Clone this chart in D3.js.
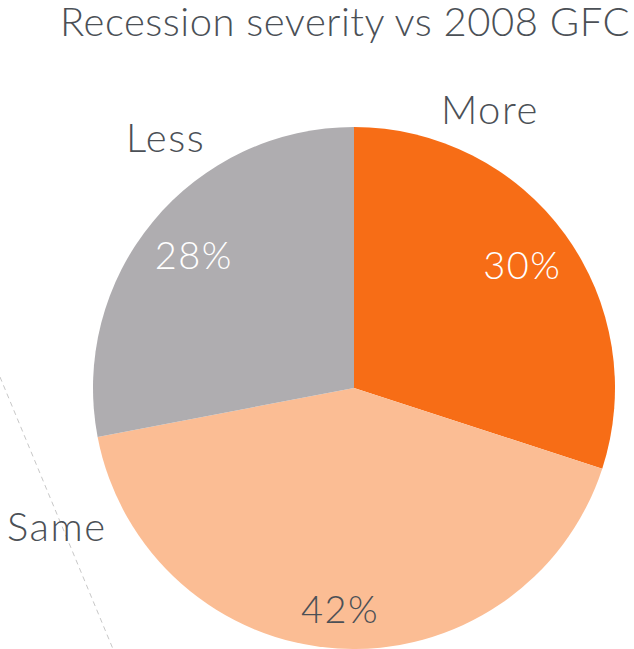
<!DOCTYPE html>
<html>
<head>
<meta charset="utf-8">
<script src="https://cdn.jsdelivr.net/npm/d3@7"></script>
<style>
  body { margin: 0; background: #fff; }
  text { font-family: Lato, "Open Sans", sans-serif; font-weight: 300; }
</style>
</head>
<body>
<script>
const categories = ["More", "Same", "Less"];
const shares = [30, 42, 28];
const colors = ["#F76D16", "#FBBD94", "#AFADB0"];
const pctColors = ["#ffffff", "#4b5056", "#ffffff"];

const width = 634;
const height = 649;
const cx = 354, cy = 388, radius = 261;

// where the category names sit (angle in degrees from top, distance from centre)
const namePlace = [[26, 310], [245, 328], [323, 313]];

const svg = d3.select("body").append("svg")
    .attr("width", width)
    .attr("height", height);

svg.append("text")
    .attr("x", 630)
    .attr("y", 36)
    .attr("text-anchor", "end")
    .attr("font-size", 40)
    .attr("letter-spacing", 0.5)
    .attr("fill", "#4b5056")
    .text("Recession severity vs 2008 GFC");

// faint dashed guide on the left
svg.append("line")
    .attr("x1", 0).attr("y1", 377)
    .attr("x2", 113).attr("y2", 649)
    .attr("stroke", "#c8c8c8")
    .attr("stroke-width", 1)
    .attr("stroke-dasharray", "5,4");

const pie = d3.pie().sort(null).value(d => d)(shares);
const arc = d3.arc().innerRadius(0).outerRadius(radius);

const g = svg.append("g").attr("transform", `translate(${cx},${cy})`);

g.selectAll("path")
    .data(pie)
    .join("path")
    .attr("d", arc)
    .attr("fill", (d, i) => colors[i]);

g.selectAll("text.pct")
    .data(pie)
    .join("text")
    .attr("class", "pct")
    .attr("transform", (d, i) => {
        const c = d3.arc().innerRadius(i === 1 ? 444 : 416).outerRadius(0).centroid(d);
        return `translate(${c[0]},${c[1]})`;
    })
    .attr("text-anchor", "middle")
    .attr("dy", "0.36em")
    .attr("font-size", 38)
    .attr("letter-spacing", 1.5)
    .attr("fill", (d, i) => pctColors[i])
    .text(d => d.data + "%");

g.selectAll("text.name")
    .data(categories)
    .join("text")
    .attr("class", "name")
    .attr("x", (d, i) => namePlace[i][1] * Math.sin(namePlace[i][0] * Math.PI / 180))
    .attr("y", (d, i) => -namePlace[i][1] * Math.cos(namePlace[i][0] * Math.PI / 180))
    .attr("text-anchor", "middle")
    .attr("dy", "0.36em")
    .attr("font-size", 40)
    .attr("letter-spacing", 1.5)
    .attr("fill", "#4b5056")
    .text(d => d);
</script>
</body>
</html>
